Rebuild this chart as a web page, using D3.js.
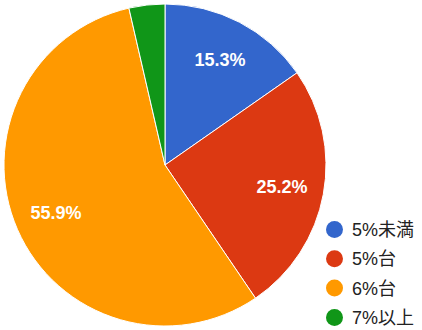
<!DOCTYPE html>
<html>
<head>
<meta charset="utf-8">
<script src="https://cdn.jsdelivr.net/npm/d3@7"></script>
<style>
  body { margin: 0; background: #fff; }
  svg { display: block; }
</style>
</head>
<body>
<div id="chart"></div>
<script>
const CATEGORIES = ["5%未満", "5%台", "6%台", "7%以上"]
const VALUES = [15.3, 25.2, 55.9, 3.6]
const COLORS = ["#3366cc", "#dc3912", "#ff9900", "#109618"]

const width = 422, height = 330
const cx = 165, cy = 165, radius = 161

const svg = d3.select("#chart").append("svg")
  .attr("width", width)
  .attr("height", height)

const data = CATEGORIES.map((c, i) => ({ cat: c, value: VALUES[i], color: COLORS[i] }))

const pie = d3.pie().sort(null).value(d => d.value)
const arcs = pie(data)
const arc = d3.arc().innerRadius(0).outerRadius(radius)
const labelArc = d3.arc().innerRadius(119).outerRadius(119)

const g = svg.append("g").attr("transform", `translate(${cx},${cy})`)

g.selectAll("path")
  .data(arcs)
  .join("path")
  .attr("d", arc)
  .attr("fill", d => d.data.color)
  .attr("stroke", "#fff")
  .attr("stroke-width", 1)

// percentage labels (small slices get none)
g.selectAll("text")
  .data(arcs.filter(d => d.data.value >= 5))
  .join("text")
  .attr("transform", d => `translate(${labelArc.centroid(d)})`)
  .attr("text-anchor", "middle")
  .attr("dy", "0.36em")
  .attr("font-family", "Liberation Sans, Arial, sans-serif")
  .attr("font-size", 18)
  .attr("font-weight", "bold")
  .attr("fill", "#fff")
  .text(d => d.data.value.toFixed(1) + "%")

// legend
const legend = svg.append("g").attr("transform", "translate(334.5,229.5)")
const rows = legend.selectAll("g")
  .data(data)
  .join("g")
  .attr("transform", (d, i) => `translate(0,${i * 29.3})`)

rows.append("circle")
  .attr("r", 8.5)
  .attr("fill", d => d.color)

rows.append("text")
  .attr("x", 17.5)
  .attr("dy", "0.36em")
  .attr("font-family", "Liberation Sans, Arial, 'Noto Sans CJK JP', sans-serif")
  .attr("font-size", 18)
  .attr("fill", "#222")
  .text(d => d.cat)
</script>
</body>
</html>
